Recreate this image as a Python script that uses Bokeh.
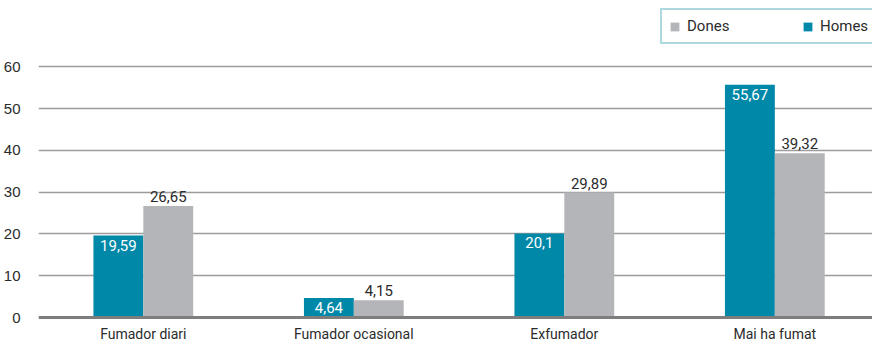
from bokeh.plotting import figure
from bokeh.models import ColumnDataSource, FixedTicker, Span, Legend, LegendItem, LabelSet
from bokeh.core.properties import value
from bokeh.embed import file_html
from bokeh.resources import INLINE

categories = ["Fumador diari", "Fumador ocasional", "Exfumador", "Mai ha fumat"]
homes = [19.59, 4.64, 20.1, 55.67]
dones = [26.65, 4.15, 29.89, 39.32]
y_ticks = [0, 10, 20, 30, 40, 50, 60]

TEAL = "#0088a8"
GREY = "#b4b5b8"
TEXT = "#2b2b2b"
FONT = "Roboto"

def fmt(v):
    return str(v).replace(".", ",")

idx = list(range(len(categories)))
bar_w = 0.237
off = bar_w / 2

src_h = ColumnDataSource(dict(x=[i - off for i in idx], top=homes,
                              lab=[fmt(v) for v in homes]))
src_d = ColumnDataSource(dict(x=[i + off for i in idx], top=dones,
                              lab=[fmt(v) for v in dones]))
src_c = ColumnDataSource(dict(x=idx, y=[0] * len(idx), lab=categories))

# the frame runs down to the bottom edge; category names sit under the zero line
p = figure(width=872, height=342, output_backend="svg", toolbar_location=None,
           x_range=(-0.498, 3.464), y_range=(-5.98, 75.84),
           min_border_left=37, min_border_right=0, min_border_top=0,
           min_border_bottom=0)
p.outline_line_color = None
p.background_fill_color = "white"
p.border_fill_color = "white"
p.xaxis.visible = False

rh = p.vbar(x="x", top="top", width=bar_w, source=src_h, color=TEAL, line_color=None)
rd = p.vbar(x="x", top="top", width=bar_w, source=src_d, color=GREY, line_color=None)

# value labels: white inside the teal bars, dark above the grey bars
p.add_layout(LabelSet(x="x", y="top", text="lab", source=src_h, text_align="center",
                      text_baseline="top", y_offset=-4, text_color="white",
                      text_font=value(FONT), text_font_size=value("15px")))
p.add_layout(LabelSet(x="x", y="top", text="lab", source=src_d, text_align="center",
                      text_baseline="bottom", y_offset=4, text_color=TEXT,
                      text_font=value(FONT), text_font_size=value("15px")))

# category names below the baseline
p.add_layout(LabelSet(x="x", y="y", text="lab", source=src_c, text_align="center",
                      text_baseline="middle", y_offset=-16, text_color=TEXT,
                      text_font=value(FONT), text_font_size=value("14px")))

# baseline at zero
p.add_layout(Span(location=0, dimension="width", line_color="#7d7d7d", line_width=3))

p.xgrid.grid_line_color = None
p.ygrid.grid_line_color = "#9c9c9c"
p.ygrid.grid_line_width = 1.5
p.ygrid.ticker = FixedTicker(ticks=y_ticks[1:])

p.yaxis.ticker = FixedTicker(ticks=y_ticks)
p.yaxis.axis_line_color = None
p.yaxis.major_tick_line_color = None
p.yaxis.minor_tick_line_color = None
p.yaxis.major_label_standoff = 12
p.yaxis.major_label_text_font = "Liberation Sans"
p.yaxis.major_label_text_font_size = "15px"
p.yaxis.major_label_text_color = TEXT

legend = Legend(items=[LegendItem(label="Dones", renderers=[rd]),
                       LegendItem(label="Homes", renderers=[rh])],
                orientation="horizontal", location=(622, 298),
                glyph_width=11, glyph_height=11, label_standoff=7,
                label_width=103, label_height=12, spacing=12, padding=7,
                label_text_font=FONT, label_text_font_size="15px",
                label_text_color=TEXT,
                border_line_color="#5fb0c2", border_line_width=2,
                background_fill_color="white", background_fill_alpha=1)
p.add_layout(legend)

open("out.html", "w").write(file_html(p, INLINE))
